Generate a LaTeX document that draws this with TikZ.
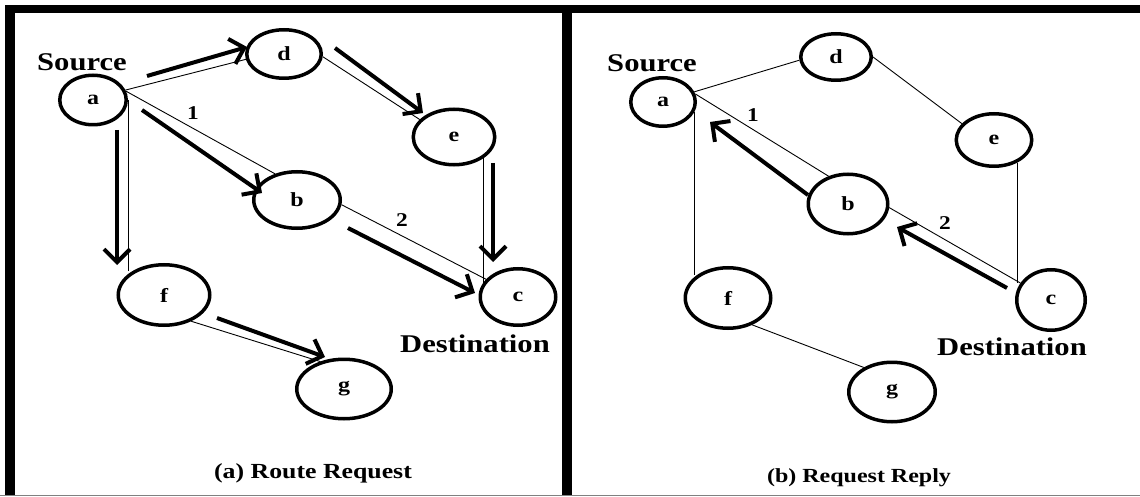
\documentclass[tikz,border=0pt]{standalone}
\usepackage{fontspec}
\setmainfont{Liberation Serif}[FakeStretch=1.2]
\usetikzlibrary{arrows.meta,shapes.geometric}
\tikzset{
  nd/.style={ellipse, draw, line width=3.5pt, fill=white, inner sep=0pt,
    font=\fontsize{20}{22}\selectfont\bfseries},
  edge/.style={line width=0.9pt},
  arr/.style={line width=4pt, -{Straight Barb[length=13pt,width=26pt]}},
  lbl/.style={font=\fontsize{25.5}{30}\selectfont\bfseries, inner sep=0pt},
  num/.style={font=\fontsize{19.5}{22}\selectfont\bfseries, inner sep=0pt},
  capa/.style={font=\fontsize{21.5}{24}\selectfont\bfseries, inner sep=0pt},
  capb/.style={font=\fontsize{20}{24}\selectfont\bfseries, inner sep=0pt},
  bar/.style={fill=black, draw=none}
}
\begin{document}
\begin{tikzpicture}[x=1pt,y=-1pt]
\useasboundingbox (0,0) rectangle (1140,497);
\fill[white] (0,0) rectangle (1140,497);
% frame
\path[bar] (5,5) rectangle (1140,13);
\path[bar] (5,5) rectangle (15,495);
\path[bar] (562,5) rectangle (572,495);
\draw[gray, line width=1.2pt] (0,495.5) -- (1140,495.5);

% ---------- left panel ----------
\node[nd, minimum width=66.5pt, minimum height=49.5pt] (aL) at (93,100) {a};
\node[nd, minimum width=74.5pt, minimum height=48.5pt] (dL) at (284,54) {d};
\node[nd, minimum width=86.5pt, minimum height=56.5pt] (bL) at (297,200) {b};
\node[nd, minimum width=81.5pt, minimum height=55.5pt] (eL) at (454,137) {e};
\node[nd, minimum width=75.5pt, minimum height=56.5pt] (cL) at (518,297) {c};
\node[nd, minimum width=91.5pt, minimum height=60.5pt] (fL) at (164,295) {f};
\node[nd, minimum width=94.5pt, minimum height=59.5pt] (gL) at (344,389) {g};

\node[lbl] (srcL) at (82,62) {Source};
\node[lbl] (dstL) at (475,344) {Destination};
\node[num] (oneL) at (193,113) {1};
\node[num] (twoL) at (402,220) {2};
\node[capa] (capL) at (313,473) {(a) Route Request};

\draw[edge] (aL.17) -- (dL.188);
\draw[edge] (aL.15) -- (bL.130);
\draw[edge] (aL.east) -- (aL.east |- fL.143);
\draw[edge] (dL.-4) -- (eL.153);
\draw[edge] (eL.-36) -- (eL.-36 |- cL.158);
\draw[edge] (bL.-6) -- (cL.151);
\draw[edge] (fL.-44) -- (gL.131);

\coordinate (sAD) at (147,76);  \coordinate (tAD) at (247,47);
\coordinate (sAB) at (142,110); \coordinate (tAB) at (262,193);
\coordinate (sAF) at (117,130); \coordinate (tAF) at (117,265);
\coordinate (sDE) at (335,48);  \coordinate (tDE) at (423,113);
\coordinate (sEC) at (493,163); \coordinate (tEC) at (493,262);
\coordinate (sBC) at (348,228); \coordinate (tBC) at (475,293);
\coordinate (sFG) at (217,318); \coordinate (tFG) at (325,357);
\draw[arr] (sAD) -- (tAD);
\draw[arr] (sAB) -- (tAB);
\draw[arr] (sAF) -- (tAF);
\draw[arr] (sDE) -- (tDE);
\draw[arr] (sEC) -- (tEC);
\draw[arr] (sBC) -- (tBC);
\draw[arr] (sFG) -- (tFG);

% ---------- right panel ----------
\node[nd, minimum width=64.5pt, minimum height=48.5pt] (aR) at (663,102) {a};
\node[nd, minimum width=70.5pt, minimum height=46.5pt] (dR) at (836,57) {d};
\node[nd, minimum width=75.5pt, minimum height=52.5pt] (eR) at (994,140) {e};
\node[nd, minimum width=79.5pt, minimum height=59.5pt] (bR) at (848,204) {b};
\node[nd, minimum width=68.5pt, minimum height=60.5pt] (cR) at (1051,300) {c};
\node[nd, minimum width=85.5pt, minimum height=60.5pt] (fR) at (728,298) {f};
\node[nd, minimum width=86.5pt, minimum height=59.5pt] (gR) at (892,392) {g};

\node[lbl] (srcR) at (652,63) {Source};
\node[lbl] (dstR) at (1012,347) {Destination};
\node[num] (oneR) at (753,115) {1};
\node[num] (twoR) at (945,223) {2};
\node[capb] (capR) at (859,478) {(b) Request Reply};

\draw[edge] (aR.18) -- (dR.185);
\draw[edge] (aR.14) -- (bR.125);
\draw[edge] (aR.-17) -- (aR.-17 |- fR.144);
\draw[edge] (dR.east) -- (eR.153);
\draw[edge] (eR.-44) -- (eR.-44 |- cR.151);
\draw[edge] (bR.-5) -- (cR.151);
\draw[edge] (fR.-48) -- (gR.139);

\coordinate (sBA) at (808,195);  \coordinate (tBA) at (710,122);
\coordinate (sCB) at (1007,288); \coordinate (tCB) at (897,227);
\draw[arr] (sBA) -- (tBA);
\draw[arr] (sCB) -- (tCB);
\end{tikzpicture}
\end{document}
